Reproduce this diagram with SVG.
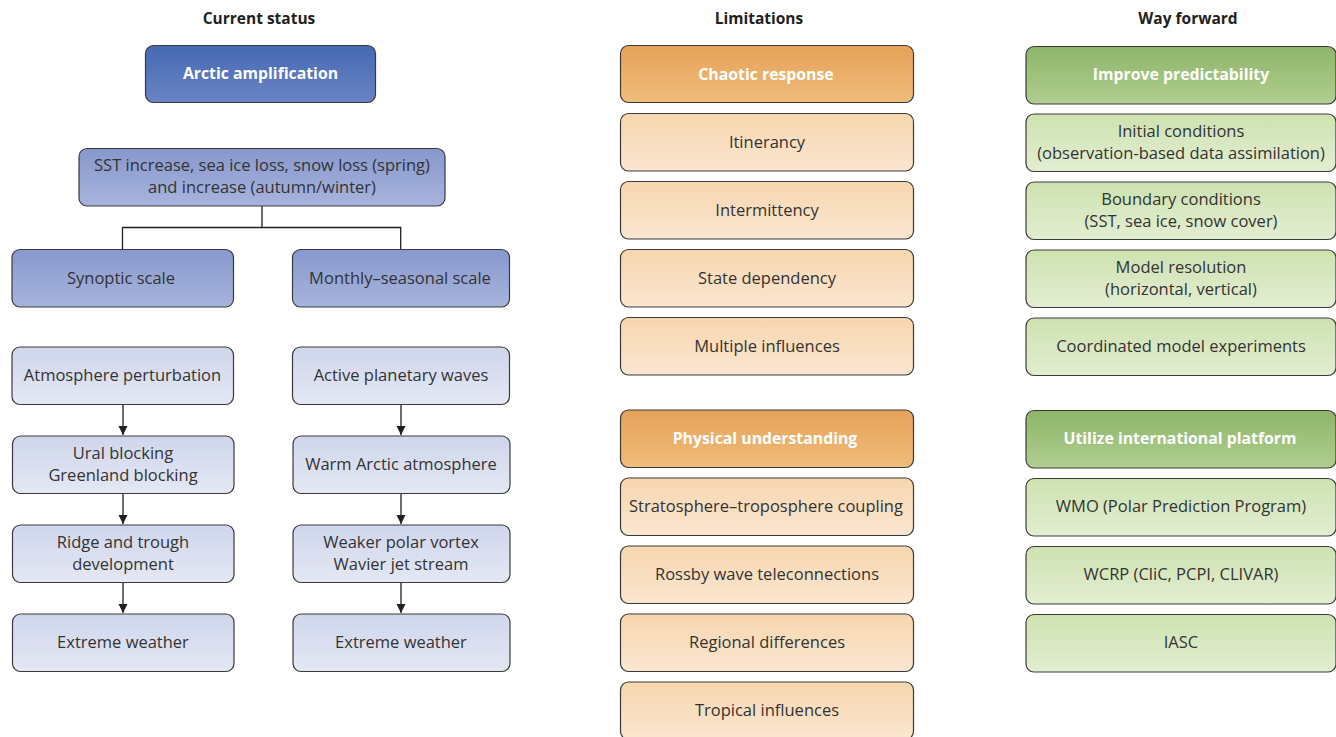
<svg xmlns="http://www.w3.org/2000/svg" width="1336" height="737" viewBox="0 0 1336 737">
<defs>
<linearGradient id="gBlueH" x1="0" y1="0" x2="0" y2="1"><stop offset="0" stop-color="#4569b3"/><stop offset="1" stop-color="#6a84c3"/></linearGradient>
<linearGradient id="gBlueM" x1="0" y1="0" x2="0" y2="1"><stop offset="0" stop-color="#8798cd"/><stop offset="1" stop-color="#a7b4dc"/></linearGradient>
<linearGradient id="gBlueL" x1="0" y1="0" x2="0" y2="1"><stop offset="0" stop-color="#cfd6ec"/><stop offset="1" stop-color="#e4e8f4"/></linearGradient>
<linearGradient id="gOrH" x1="0" y1="0" x2="0" y2="1"><stop offset="0" stop-color="#e6a259"/><stop offset="1" stop-color="#efbc7a"/></linearGradient>
<linearGradient id="gOrL" x1="0" y1="0" x2="0" y2="1"><stop offset="0" stop-color="#f7d6ae"/><stop offset="1" stop-color="#fbe6d0"/></linearGradient>
<linearGradient id="gGrH" x1="0" y1="0" x2="0" y2="1"><stop offset="0" stop-color="#8db569"/><stop offset="1" stop-color="#b1ce90"/></linearGradient>
<linearGradient id="gGrL" x1="0" y1="0" x2="0" y2="1"><stop offset="0" stop-color="#cde2b0"/><stop offset="1" stop-color="#e3eed2"/></linearGradient>
<marker id="arr" markerWidth="10" markerHeight="10" refX="9" refY="5" orient="auto" markerUnits="userSpaceOnUse"><path d="M0,0.5 L9,5 L0,9.5 Z" fill="#231f20"/></marker>
</defs>
<style>
.box{stroke:#3a3a3a;stroke-width:1.2}
.t{font-family:"Open Sans","Noto Sans",sans-serif;font-size:16.5px;fill:#333;text-anchor:middle}
.b{font-family:"Open Sans","Noto Sans",sans-serif;font-size:15.8px;font-weight:bold;fill:#fff;text-anchor:middle}
.h{font-family:"Open Sans","Noto Sans",sans-serif;font-size:15.5px;font-weight:bold;fill:#231f20;text-anchor:middle}
.c{fill:none;stroke:#231f20;stroke-width:1.3}
</style>
<g id="headers">
<text class="h" x="259" y="24">Current status</text>
<text class="h" x="759" y="24">Limitations</text>
<text class="h" x="1188" y="24">Way forward</text>
</g>
<g id="connectors">
<path class="c" d="M262,206 V227.5 M122.5,249 V227.5 H400.7 V249"/>
<path class="c" marker-end="url(#arr)" d="M123,405 V435"/>
<path class="c" marker-end="url(#arr)" d="M123,494 V524"/>
<path class="c" marker-end="url(#arr)" d="M123,583 V613"/>
<path class="c" marker-end="url(#arr)" d="M401,405 V435"/>
<path class="c" marker-end="url(#arr)" d="M401,494 V524"/>
<path class="c" marker-end="url(#arr)" d="M401,583 V613"/>
</g>
<g id="arctic"><rect class="box" x="145.5" y="45.5" width="230" height="57" rx="8" fill="url(#gBlueH)"/><text class="b" x="260.5" y="79">Arctic amplification</text></g>
<g id="sst"><rect class="box" x="79" y="148.5" width="366" height="57.5" rx="8" fill="url(#gBlueM)"/><text class="t" x="262" y="171">SST increase, sea ice loss, snow loss (spring)</text><text class="t" x="262" y="193">and increase (autumn/winter)</text></g>
<g id="synoptic"><rect class="box" x="12" y="249.5" width="221.5" height="57.5" rx="8" fill="url(#gBlueM)"/><text class="t" x="121" y="284">Synoptic scale</text></g>
<g id="monthly"><rect class="box" x="292.5" y="249.5" width="217" height="57.5" rx="8" fill="url(#gBlueM)"/><text class="t" x="400" y="284">Monthly–seasonal scale</text></g>
<g id="atmos"><rect class="box" x="12" y="347" width="221.5" height="57.5" rx="8" fill="url(#gBlueL)"/><text class="t" x="122.5" y="381">Atmosphere perturbation</text></g>
<g id="ural"><rect class="box" x="12.5" y="436" width="221.5" height="57.5" rx="8" fill="url(#gBlueL)"/><text class="t" x="123" y="459">Ural blocking</text><text class="t" x="123" y="481">Greenland blocking</text></g>
<g id="ridge"><rect class="box" x="12.5" y="525" width="221.5" height="57.5" rx="8" fill="url(#gBlueL)"/><text class="t" x="123" y="548">Ridge and trough</text><text class="t" x="123" y="570">development</text></g>
<g id="extreme1"><rect class="box" x="12.5" y="614" width="221.5" height="57.5" rx="8" fill="url(#gBlueL)"/><text class="t" x="123" y="648">Extreme weather</text></g>
<g id="active"><rect class="box" x="292.5" y="347" width="217" height="57.5" rx="8" fill="url(#gBlueL)"/><text class="t" x="401" y="381">Active planetary waves</text></g>
<g id="warm"><rect class="box" x="293" y="436" width="217" height="57.5" rx="8" fill="url(#gBlueL)"/><text class="t" x="401" y="470">Warm Arctic atmosphere</text></g>
<g id="weaker"><rect class="box" x="293" y="525" width="217" height="57.5" rx="8" fill="url(#gBlueL)"/><text class="t" x="401" y="548">Weaker polar vortex</text><text class="t" x="401" y="570">Wavier jet stream</text></g>
<g id="extreme2"><rect class="box" x="293" y="614" width="217" height="57.5" rx="8" fill="url(#gBlueL)"/><text class="t" x="401" y="648">Extreme weather</text></g>
<g id="chaotic"><rect class="box" x="620.5" y="45.5" width="293" height="57" rx="8" fill="url(#gOrH)"/><text class="b" x="766" y="80">Chaotic response</text></g>
<g id="itin"><rect class="box" x="620.5" y="113.5" width="293" height="57.5" rx="8" fill="url(#gOrL)"/><text class="t" x="767" y="148">Itinerancy</text></g>
<g id="interm"><rect class="box" x="620.5" y="181.5" width="293" height="57.5" rx="8" fill="url(#gOrL)"/><text class="t" x="767" y="216">Intermittency</text></g>
<g id="state"><rect class="box" x="620.5" y="249.5" width="293" height="57.5" rx="8" fill="url(#gOrL)"/><text class="t" x="767" y="284">State dependency</text></g>
<g id="multi"><rect class="box" x="620.5" y="317.5" width="293" height="57.5" rx="8" fill="url(#gOrL)"/><text class="t" x="767" y="352">Multiple influences</text></g>
<g id="physical"><rect class="box" x="620.5" y="410" width="293" height="57.5" rx="8" fill="url(#gOrH)"/><text class="b" x="765" y="444">Physical understanding</text></g>
<g id="strat"><rect class="box" x="620.5" y="478" width="293" height="57.5" rx="8" fill="url(#gOrL)"/><text class="t" x="766" y="512">Stratosphere–troposphere coupling</text></g>
<g id="rossby"><rect class="box" x="620.5" y="546" width="293" height="57.5" rx="8" fill="url(#gOrL)"/><text class="t" x="767" y="580">Rossby wave teleconnections</text></g>
<g id="regional"><rect class="box" x="620.5" y="614" width="293" height="57.5" rx="8" fill="url(#gOrL)"/><text class="t" x="767" y="648">Regional differences</text></g>
<g id="tropical"><rect class="box" x="620.5" y="682" width="293" height="57.5" rx="8" fill="url(#gOrL)"/><text class="t" x="767" y="716">Tropical influences</text></g>
<g id="improve"><rect class="box" x="1026" y="46.5" width="310" height="57.5" rx="8" fill="url(#gGrH)"/><text class="b" x="1181" y="80">Improve predictability</text></g>
<g id="initial"><rect class="box" x="1026" y="114" width="310" height="57.5" rx="8" fill="url(#gGrL)"/><text class="t" x="1181" y="137">Initial conditions</text><text class="t" x="1181" y="159">(observation-based data assimilation)</text></g>
<g id="boundary"><rect class="box" x="1026" y="182" width="310" height="57.5" rx="8" fill="url(#gGrL)"/><text class="t" x="1181" y="205">Boundary conditions</text><text class="t" x="1181" y="227">(SST, sea ice, snow cover)</text></g>
<g id="resolution"><rect class="box" x="1026" y="250" width="310" height="57.5" rx="8" fill="url(#gGrL)"/><text class="t" x="1181" y="273">Model resolution</text><text class="t" x="1181" y="295">(horizontal, vertical)</text></g>
<g id="coord"><rect class="box" x="1026" y="318" width="310" height="57.5" rx="8" fill="url(#gGrL)"/><text class="t" x="1181" y="352">Coordinated model experiments</text></g>
<g id="utilize"><rect class="box" x="1026" y="410.5" width="310" height="57.5" rx="8" fill="url(#gGrH)"/><text class="b" x="1180" y="444">Utilize international platform</text></g>
<g id="wmo"><rect class="box" x="1026" y="478.5" width="310" height="57.5" rx="8" fill="url(#gGrL)"/><text class="t" x="1181" y="512">WMO (Polar Prediction Program)</text></g>
<g id="wcrp"><rect class="box" x="1026" y="546.5" width="310" height="57.5" rx="8" fill="url(#gGrL)"/><text class="t" x="1181" y="580">WCRP (CliC, PCPI, CLIVAR)</text></g>
<g id="iasc"><rect class="box" x="1026" y="614.5" width="310" height="57.5" rx="8" fill="url(#gGrL)"/><text class="t" x="1181" y="648">IASC</text></g>
</svg>
